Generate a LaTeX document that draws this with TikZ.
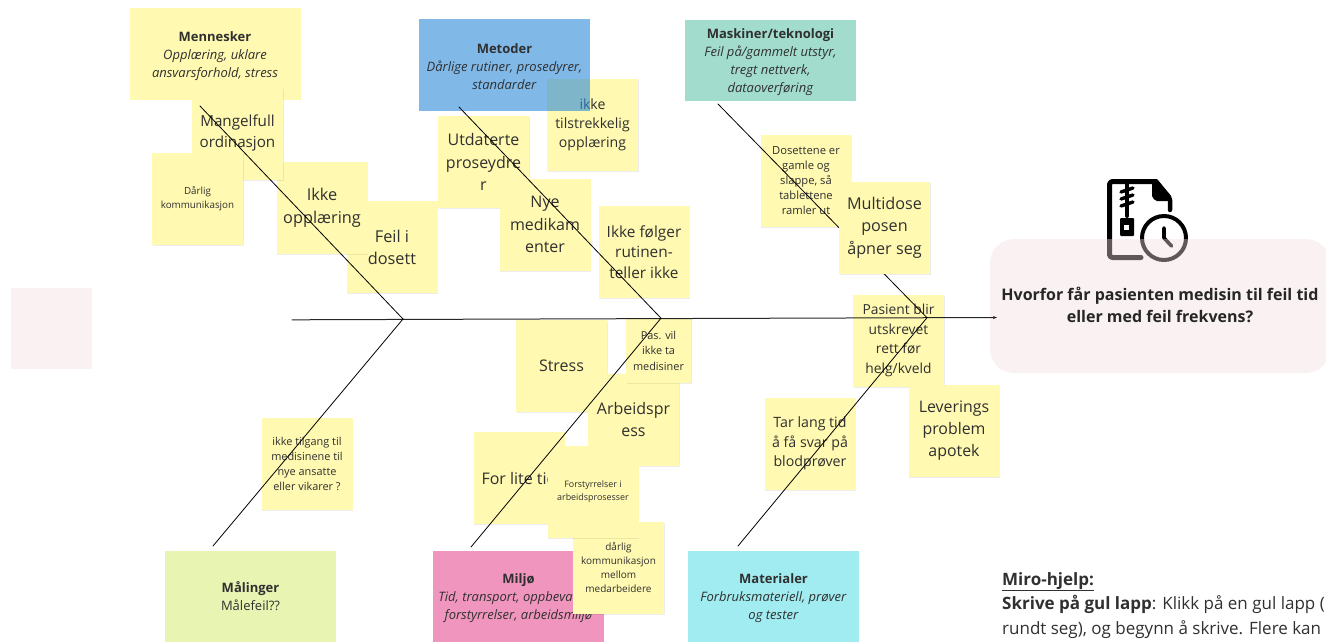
\documentclass[tikz,border=0pt]{standalone}
\usepackage{fontspec}
\setmainfont{Open Sans}
\usetikzlibrary{arrows.meta,shadows}
\definecolor{lapp}{HTML}{FFF9B1}
\definecolor{tekst}{HTML}{303030}
\definecolor{rosa}{HTML}{F2DCDE}
\newcommand{\luft}{\rule{0pt}{14pt}}
\tikzset{
    lapp/.style={fill=lapp,text=tekst,align=center,inner sep=0pt,minimum width=91pt,minimum height=92pt,
        general shadow={shadow xshift=0.5pt,shadow yshift=-1.2pt,fill=black,opacity=0.07}},
    gren/.style={line width=0.8pt,black},
    tittel/.style={text=tekst,align=center,inner sep=0pt,minimum width=171pt,font=\fontsize{13}{18}\selectfont}
}
\begin{document}
\begin{tikzpicture}[x=1pt,y=-1pt,line cap=round,line join=round]
    \useasboundingbox(0,0)rectangle(1326,641);
    \clip(0,0)rectangle(1326,641);
    % bokser som ikke ligger over lappene
    \node[tittel,fill=lapp,minimum height=92pt](mennesker)at(215,54){\luft\textbf{Mennesker}\\\textit{Opplæring, uklare}\\\textit{ansvarsforhold, stress}};
    \node[tittel,fill={rgb,255:red,161;green,220;blue,205},minimum height=81pt](maskiner)at(770.5,60.5){\luft\textbf{Maskiner/teknologi}\\\textit{Feil på/gammelt utstyr,}\\\textit{tregt nettverk,}\\\textit{dataoverføring}};
    \node[tittel,fill={rgb,255:red,232;green,244;blue,178},minimum height=92pt](malinger)at(250.5,596.5){\textbf{Målinger}\\Målefeil??};
    \node[tittel,fill={rgb,255:red,240;green,150;blue,190},minimum height=92pt](miljo)at(518.5,596.5){\luft\textbf{Miljø}\\\textit{Tid, transport, oppbevaring,}\\\textit{forstyrrelser, arbeidsmiljø}};
    \node[tittel,fill={rgb,255:red,161;green,236;blue,240},minimum height=92pt](materialer)at(773.5,596.5){\luft\textbf{Materialer}\\\textit{Forbruksmateriell, prøver}\\\textit{og tester}};
    % ikon under den rosa boksen
    \draw[line width=5pt,black,rounded corners=3pt](1156,181.5)--(1109.5,181.5)--(1109.5,257.5)--(1141,257.5);
    \draw[line width=4.5pt,black](1156,181.5)--(1170,200)--(1170,210);
    \fill[black](1152,181)--(1152,196)[rounded corners=2pt]--(1155,201)--(1172,201)--(1172,197)--(1157,179)--cycle;
    \foreach \y in{191,198,205}
    \draw[line width=3.4pt,black](1121,\y+1)--(1133,\y-3);
    \draw[line width=4pt,black](1127,183)--(1127,216);
    \fill[black,rounded corners=1pt](1120,218)rectangle(1134,236);
    \fill[white](1124,225)rectangle(1129,230);
    \draw[line width=4pt,black](1164,238)circle(22);
    \draw[line width=3.6pt,black](1164,228)--(1164,238)--(1171.5,246);
    \node[fill=rosa,fill opacity=0.4,rounded corners=24pt,minimum width=340pt,minimum height=134pt,inner sep=0pt](problem)at(1160,306){};
    \node[fill=rosa,fill opacity=0.4,minimum size=81pt,inner sep=0pt](tomrute)at(51.5,328.5){};
    \node[text=black!85,align=center,inner sep=0pt,font=\bfseries\fontsize{16}{22}\selectfont](problemtekst)at(1160,305){Hvorfor får pasienten medisin til feil tid\\eller med feil frekvens?};
    % lappene
    \foreach \n/\x/\y/\s/\l/\t in{
        feildosett/392/247/16.3/22/{Feil i\\dosett},
        ikkeopp/322/208/16.3/23/{Ikke\\opplæring},
        mangelfull/237.5/133.5/15.2/21/{Mangelfull\\ordinasjon},
        darligkomm/197.5/198.5/9.8/13.5/{Dårlig\\kommunikasjon},
        utdaterte/483.5/162/16/22.5/{Utdaterte\\proseydre\\r},
        nye/545/224.5/16/22.5/{Nye\\medikam\\enter},
        tilstrekkelig/592.5/124.5/14.1/19/{ikke\\tilstrekkelig\\opplæring},
        rutinen/644/252/15.4/20.5/{Ikke følger\\rutinen-\\teller ikke},
        dosettene/806/181/11.2/15/{Dosettene er\\gamle og\\slappe, så\\tablettene\\ramler ut},
        pasient/898.5/340.5/13.8/19.5/{Pasient blir\\utskrevet\\rett før\\helg/kveld},
        leverings/954/431/15.9/22/{Leverings\\problem\\apotek},
        tarlang/810/443.5/14.2/19.5/{Tar lang tid\\å få svar på\\blodprøver},
        tilgang/307/463.5/10.9/15/{ikke tilgang til\\medisinene til\\nye ansatte\\eller vikarer ?},
        stress/561.5/365.5/16/22/{Stress},
        arbeidspress/633.5/419.5/16/22/{Arbeidspr\\ess},
        forlite/519/478/16/22/{For lite tid},
        darligmed/618.5/567.5/10/14/{dårlig\\kommunikasjon\\mellom\\medarbeidere},
        forstyrrelser/593/491.5/8.9/13/{Forstyrrelser i\\arbeidsprosesser}}
    \node[lapp,font=\fontsize{\s}{\l}\selectfont](\n)at(\x,\y){\t};
    \node[lapp,minimum width=65pt,minimum height=65pt,font=\fontsize{10.9}{15.5}\selectfont](pasvil)at(658.5,350.5){Pas. vil\\ikke ta\\medisiner};
    % blå boks med lappen under
    \node[tittel,fill={rgb,255:red,43;green,137;blue,217},fill opacity=0.6,text opacity=1,minimum height=92pt](metoder)at(504.5,65){\luft\textbf{Metoder}\\\textit{Dårlige rutiner, prosedyrer,}\\\textit{standarder}};
    % fiskebeinet
    \coordinate(hale)at(292,319.8);
    \coordinate(ledd1)at(403,319);
    \coordinate(ledd2)at(661,318.2);
    \coordinate(ledd3)at(927,317.7);
    \coordinate(hode)at(997,317.5);
    \coordinate(startmenn)at(200,106);
    \coordinate(startmet)at(459,107);
    \coordinate(startmask)at(718,104);
    \coordinate(startmal)at(213,546);
    \coordinate(startmil)at(471,547);
    \coordinate(startmat)at(738,546);
    \draw[-{Stealth[length=4pt,width=3pt]},line width=1pt,black!85](hale)--(hode);
    \foreach \a/\b in{startmenn/ledd1,startmal/ledd1,startmet/ledd2,startmil/ledd2,startmask/ledd3,startmat/ledd3}
    \draw[gren](\a)--(\b);
    \node[lapp,font=\fontsize{16.2}{22.5}\selectfont](multidose)at(884.5,227.5){Multidose\\posen\\åpner seg};
    % hjelpetekst
    \node[anchor=north west,align=left,inner sep=0pt,text=tekst,font=\fontsize{17}{24.5}\selectfont](hjelp)at(1002,572){\textbf{\underline{Miro-hjelp:}}\\\textbf{Skrive på gul lapp}: Klikk på en gul lapp (\\rundt seg), og begynn å skrive. Flere kan};
\end{tikzpicture}
\end{document}
